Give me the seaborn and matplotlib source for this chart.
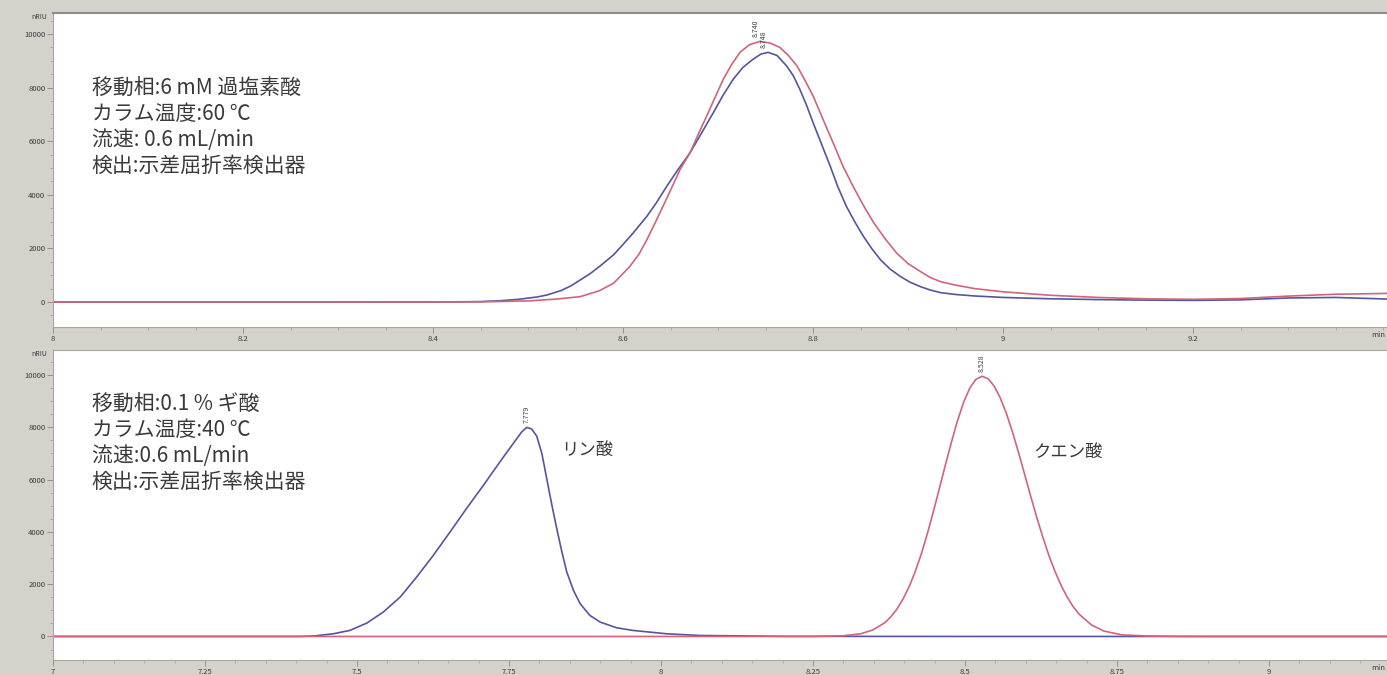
import numpy as np
import pandas as pd
import matplotlib
matplotlib.use("Agg")
import matplotlib.pyplot as plt
import seaborn as sns
from matplotlib.ticker import MultipleLocator

# ---------------- data ----------------
# Top panel: 6 mM perchloric acid, 60 C
top_blue_t = [8.00, 8.30, 8.40, 8.43, 8.45, 8.47, 8.49, 8.51, 8.52, 8.535, 8.545, 8.555, 8.565,
              8.575, 8.59, 8.60, 8.61, 8.625, 8.635, 8.646, 8.658, 8.6705, 8.683, 8.695, 8.705,
              8.716, 8.726, 8.737, 8.745, 8.7526, 8.762, 8.772, 8.779, 8.786, 8.793, 8.800,
              8.809, 8.818, 8.826, 8.835, 8.844, 8.853, 8.862, 8.871, 8.881, 8.892, 8.902,
              8.913, 8.923, 8.934, 8.95, 8.97, 9.00, 9.05, 9.10, 9.15, 9.20, 9.25, 9.30,
              9.35, 9.404]
top_blue_v = [0, 0, 3, 8, 15, 45, 100, 190, 262, 430, 600, 824, 1050,
              1320, 1760, 2150, 2550, 3196, 3700, 4320, 4950, 5570, 6330, 7066, 7700,
              8315, 8750, 9064, 9250, 9315, 9200, 8813, 8450, 7940, 7350, 6690,
              5880, 5070, 4300, 3570, 2980, 2446, 1980, 1573, 1230, 948, 740,
              573, 450, 350, 280, 225, 170, 120, 90, 70, 60, 80, 150,
              170, 110]

top_red_t = [8.00, 8.40, 8.45, 8.50, 8.53, 8.555, 8.575, 8.59, 8.607, 8.617, 8.625, 8.633,
             8.642, 8.651, 8.660, 8.6705, 8.679, 8.688, 8.697, 8.7055, 8.714, 8.723, 8.733,
             8.744, 8.755, 8.765, 8.774, 8.783, 8.791, 8.800, 8.810, 8.821, 8.831, 8.842,
             8.853, 8.864, 8.876, 8.888, 8.900, 8.913, 8.923, 8.934, 8.95, 8.97, 9.00,
             9.05, 9.10, 9.15, 9.20, 9.25, 9.30, 9.35, 9.404]
top_red_v = [0, 0, 5, 40, 110, 200, 420, 700, 1322, 1800, 2322, 2900,
             3570, 4250, 4944, 5570, 6250, 6940, 7650, 8315, 8850, 9315, 9600,
             9725, 9660, 9500, 9200, 8813, 8300, 7690, 6850, 5944, 5100, 4320,
             3600, 2946, 2350, 1823, 1430, 1136, 920, 760, 630, 500, 380,
             250, 170, 120, 100, 130, 220, 290, 320]

top_peak_rt = [8.740, 8.748]
top_peak_h = [9725, 9315]
top_peak_labels = ["8.740", "8.748"]

# Bottom panel: 0.1 % formic acid, 40 C
bot_blue_t = [7.00, 7.30, 7.406, 7.43, 7.461, 7.488, 7.516, 7.543, 7.571, 7.598, 7.6255,
              7.653, 7.680, 7.708, 7.735, 7.757, 7.771, 7.779, 7.787, 7.7956, 7.804,
              7.812, 7.820, 7.8285, 7.837, 7.845, 7.856, 7.867, 7.883, 7.900, 7.927,
              7.954, 8.009, 8.064, 8.20, 8.50, 8.80, 9.194]
bot_blue_v = [0, 0, 0, 20, 103, 230, 510, 930, 1505, 2271, 3102,
              3995, 4891, 5783, 6676, 7380, 7825, 7993, 7940, 7660, 6996,
              6040, 5082, 4125, 3229, 2463, 1762, 1252, 804, 548, 333,
              230, 103, 38, 5, 0, 0, 0]

bot_red_t = [7.00, 8.00, 8.25, 8.298, 8.328, 8.348, 8.368, 8.378, 8.388, 8.398, 8.408,
             8.418, 8.428, 8.438, 8.448, 8.458, 8.468, 8.478, 8.488, 8.498, 8.508,
             8.518, 8.528, 8.538, 8.548, 8.558, 8.568, 8.578, 8.588, 8.598, 8.608,
             8.618, 8.628, 8.638, 8.648, 8.658, 8.668, 8.678, 8.688, 8.708, 8.728,
             8.758, 8.798, 8.848, 8.90, 9.00, 9.194]
bot_red_v = [0, 0, 0, 23, 100, 245, 525, 750, 1050, 1430, 1900,
             2475, 3150, 3930, 4780, 5675, 6585, 7460, 8280, 8975, 9505,
             9836, 9950, 9855, 9570, 9120, 8530, 7820, 7035, 6200, 5360,
             4555, 3795, 3095, 2485, 1955, 1505, 1135, 845, 440, 210,
             60, 20, 5, 0, 0, 0]

bot_peak_rt = [7.779, 8.528]
bot_peak_h = [7993, 9950]
bot_peak_labels = ["7.779", "8.528"]

top_conditions = ["移動相:6 mM 過塩素酸", "カラム温度:60 ℃", "流速: 0.6 mL/min", "検出:示差屈折率検出器"]
bot_conditions = ["移動相:0.1 % ギ酸", "カラム温度:40 ℃", "流速:0.6 mL/min", "検出:示差屈折率検出器"]
compound_names = ["リン酸", "クエン酸"]
compound_pos_t = [7.878, 8.669]
compound_pos_v = [7150, 7050]

y_ticks = [0, 2000, 4000, 6000, 8000, 10000]
top_x_ticks = [8, 8.2, 8.4, 8.6, 8.8, 9, 9.2]
bot_x_ticks = [7, 7.25, 7.5, 7.75, 8, 8.25, 8.5, 8.75, 9]

# ---------------- style ----------------
sns.set_theme(style="white")
plt.rcParams['font.family'] = ['Noto Sans CJK JP', 'DejaVu Sans']

BLUE = "#55559e"
RED = "#d2647a"
GRAY_BG = "#d5d2cc"
TXT = "#3a3a3a"

fig = plt.figure(figsize=(13.87, 6.75), dpi=100, facecolor=GRAY_BG)
W, H = 1387.0, 675.0

def px_axes(x0, y0, x1, y1):
    return fig.add_axes([x0 / W, 1 - y1 / H, (x1 - x0) / W, (y1 - y0) / H])

ax1 = px_axes(53, 13, 1387, 327)
ax2 = px_axes(53, 350, 1387, 660)

def draw(ax, bt, bv, rt, rv):
    d1 = pd.DataFrame({"t": bt, "v": bv})
    d2 = pd.DataFrame({"t": rt, "v": rv})
    sns.lineplot(data=d1, x="t", y="v", ax=ax, color=BLUE, linewidth=1.2, sort=True)
    sns.lineplot(data=d2, x="t", y="v", ax=ax, color=RED, linewidth=1.2, sort=True)

draw(ax1, top_blue_t, top_blue_v, top_red_t, top_red_v)
draw(ax2, bot_blue_t, bot_blue_v, bot_red_t, bot_red_v)

ax1.set_xlim(8.0, 9.404)
ax1.set_ylim(-933, 10784)
ax2.set_xlim(7.0, 9.194)
ax2.set_ylim(-900, 10954)

for ax, xt, minor in [(ax1, top_x_ticks, 0.05), (ax2, bot_x_ticks, 0.05)]:
    ax.set_facecolor("white")
    ax.set_xlabel("")
    ax.set_ylabel("")
    ax.set_xticks(xt)
    ax.set_xticklabels([("%g" % v) for v in xt])
    ax.xaxis.set_minor_locator(MultipleLocator(minor))
    ax.set_yticks(y_ticks)
    ax.set_yticklabels([str(v) for v in y_ticks])
    ax.yaxis.set_minor_locator(MultipleLocator(500))
    ax.tick_params(axis="both", which="major", direction="out", length=4, width=0.6,
                   color="#8a8a8a", labelsize=5.5, labelcolor=TXT, pad=1.5,
                   left=True, bottom=True)
    ax.tick_params(axis="both", which="minor", direction="out", length=2, width=0.5,
                   color="#9a9a9a", left=True, bottom=True)
    for s in ax.spines.values():
        s.set_color("#a8a6a0")
        s.set_linewidth(0.8)
    ax.spines["right"].set_visible(False)
    ax.text(-0.004, 1.0, "nRIU", transform=ax.transAxes, ha="right", va="top",
            fontsize=5, color=TXT)
    ax.text(0.999, -0.012, "min", transform=ax.transAxes, ha="right", va="top",
            fontsize=5.5, color=TXT, clip_on=False)

ax1.spines["top"].set_color("#8c8c8c")
ax1.spines["top"].set_linewidth(1.5)

# condition text blocks
ax1.text(0.029, 0.797, "\n".join(top_conditions), transform=ax1.transAxes,
         ha="left", va="top", fontsize=15, color=TXT, linespacing=1.24)
ax2.text(0.029, 0.862, "\n".join(bot_conditions), transform=ax2.transAxes,
         ha="left", va="top", fontsize=15, color=TXT, linespacing=1.24)

# compound names
for name, t, v in zip(compound_names, compound_pos_t, compound_pos_v):
    ax2.text(t, v, name, ha="center", va="center", fontsize=12.5, color=TXT)

# peak retention-time labels
for ax, rts, hs, labs in [(ax1, top_peak_rt, top_peak_h, top_peak_labels),
                          (ax2, bot_peak_rt, bot_peak_h, bot_peak_labels)]:
    for t, h, lab in zip(rts, hs, labs):
        ax.annotate(lab, xy=(t, h), xytext=(0, 3), textcoords="offset points",
                    rotation=90, ha="center", va="bottom", fontsize=5, color=TXT)

fig.savefig("out.png", dpi=100, facecolor=GRAY_BG)
